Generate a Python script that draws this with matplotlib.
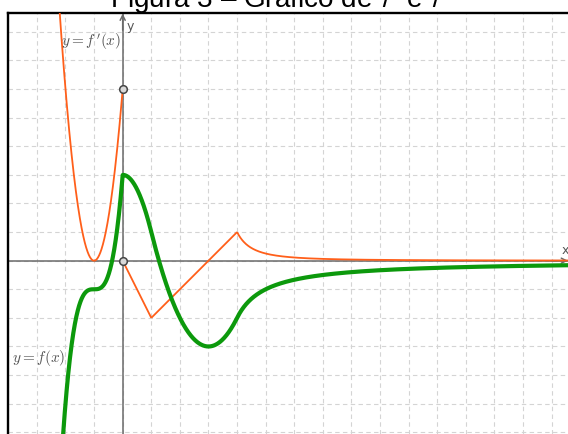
import numpy as np
import matplotlib
matplotlib.use("Agg")
import matplotlib.pyplot as plt

# ---- data ----
title_text = "Figura 3 – Gráfico de $f\\,'$ e $f$"
label_fprime = r"$y = f\,'(x)$"
label_f = r"$y = f(x)$"
x_range = [-4.01, 15.57]
y_range = [-6.06, 8.66]
breaks = [0.0, 1.0, 4.0]              # pieces of f'
open_points_x = [0.0, 0.0]
open_points_y = [6.0, 0.0]
grid_step = 1

def fprime(x):
    x = np.asarray(x, float)
    return np.piecewise(
        x,
        [x < 0, (x >= 0) & (x < 1), (x >= 1) & (x <= 4), x > 4],
        [lambda t: 6 * (t + 1) ** 2,
         lambda t: -2 * t,
         lambda t: t - 3,
         lambda t: 1 / (t - 3) ** 2])

def f(x):
    x = np.asarray(x, float)
    return np.piecewise(
        x,
        [x < 0, (x >= 0) & (x < 1), (x >= 1) & (x <= 4), x > 4],
        [lambda t: -1 + 4 * (t + 1) ** 3,
         lambda t: 3 - 2 * t ** 2,
         lambda t: (t - 3) ** 2 - 3,
         lambda t: -2 / (t - 3)])

ORANGE = "#FF5F1A"
GREEN = "#0C990C"
AXIS = "#6a6a6a"

W, H = 568, 435
fig = plt.figure(figsize=(W / 100, H / 100), dpi=100)
ax = fig.add_axes([8 / W, 0, 1 - 8 / W, (H - 14) / H])
ax.set_xlim(*x_range)
ax.set_ylim(*y_range)

ax.set_xticks(np.arange(-4, 16, grid_step))
ax.set_yticks(np.arange(-6, 9, grid_step))
ax.tick_params(length=0, labelleft=False, labelbottom=False)
ax.grid(True, color="#d4d4d4", linestyle=(0, (4, 3)), linewidth=0.8)
ax.set_axisbelow(True)
for s in ["right", "bottom"]:
    ax.spines[s].set_visible(False)
for s in ["top", "left"]:
    ax.spines[s].set_color("black")
    ax.spines[s].set_linewidth(1.7)

# axes lines with arrows
ax.axhline(0, color=AXIS, lw=1.1, zorder=1)
ax.axvline(0, color=AXIS, lw=1.1, zorder=1)
ax.annotate("", xy=(0, y_range[1] - 0.02), xytext=(0, y_range[1] - 0.6),
            arrowprops=dict(arrowstyle="->", color=AXIS, lw=1.1,
                            shrinkA=0, shrinkB=0, mutation_scale=9))
ax.annotate("", xy=(x_range[1], 0), xytext=(x_range[1] - 0.6, 0),
            arrowprops=dict(arrowstyle="->", color=AXIS, lw=1.1,
                            shrinkA=0, shrinkB=0, mutation_scale=9))
ax.text(0.15, 8.45, "y", color="#555555", fontsize=9, family="DejaVu Sans",
        va="top", ha="left")
ax.text(15.35, 0.15, "x", color="#555555", fontsize=9, family="DejaVu Sans",
        va="bottom", ha="left")

# f'
segs = [np.linspace(x_range[0], breaks[0], 400),
        np.linspace(breaks[0], breaks[1], 50),
        np.linspace(breaks[1], breaks[2], 100),
        np.linspace(breaks[2], x_range[1], 600)]
for k, xs in enumerate(segs):
    if k == 0:
        xs = xs[:-1]
        xs = np.append(xs, -1e-9)
    ax.plot(xs, fprime(xs), color=ORANGE, lw=1.3, zorder=3,
            solid_capstyle="butt")

# f
xf = np.linspace(x_range[0], x_range[1], 3000)
ax.plot(xf, f(xf), color=GREEN, lw=3.0, zorder=4, solid_capstyle="round")

ax.plot(open_points_x, open_points_y, "o", ms=5.5, mfc="#d8d8d8",
        mec="#454545", mew=1.1, zorder=5)

ax.text(-2.14, 7.68, label_fprime, color="#555555", fontsize=11,
        math_fontfamily="cm", va="center", ha="left", zorder=6)
ax.text(-3.87, -3.37, label_f, color="#555555", fontsize=11,
        math_fontfamily="cm", va="center", ha="left", zorder=6)

# title (mostly clipped at the top, as in the reference)
t = fig.text(278 / W, 1 - 7.5 / H, title_text, ha="center", va="baseline",
             family="Liberation Sans", fontsize=18, math_fontfamily="stixsans")
fig.canvas.draw()
w = t.get_window_extent().width
t.set_fontsize(18 * 337 / w)

fig.savefig("out.png", dpi=100)
